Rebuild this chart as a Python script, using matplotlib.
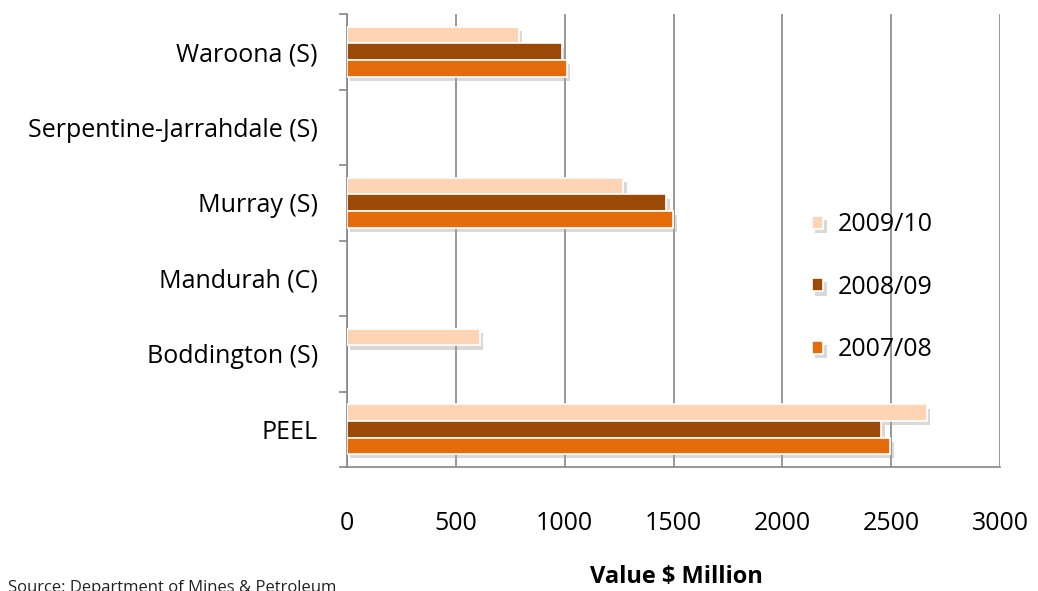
import matplotlib
matplotlib.use("Agg")
from matplotlib import pyplot as plt
from matplotlib import patheffects as pe
import numpy as np

categories = ["PEEL", "Boddington (S)", "Mandurah (C)", "Murray (S)",
              "Serpentine-Jarrahdale (S)", "Waroona (S)"]
years = ["2009/10", "2008/09", "2007/08"]
v0910 = [2663, 610, 0, 1270, 0, 788]
v0809 = [2455, 0, 0, 1467, 0, 987]
v0708 = [2495, 0, 0, 1499, 0, 1010]
colors = ["#FDD5B4", "#9A4A06", "#E46C0A"]

plt.rcParams["font.family"] = ["Open Sans", "DejaVu Sans"]

fig = plt.figure(figsize=(10.38, 5.91), dpi=100)
ax = fig.add_axes([347 / 1038, 1 - 467 / 591, (1000 - 347) / 1038, (467 - 14) / 591])

y = np.arange(len(categories))
h = 0.22
shadow = [pe.SimplePatchShadow(offset=(2.5, -3), shadow_rgbFace="#a0a0a0", alpha=0.4),
          pe.Normal()]
series = [v0910, v0809, v0708]
offsets = [h, 0, -h]
handles = []
for vals, off, c, lab in zip(series, offsets, colors, years):
    b = ax.barh(y + off, vals, height=h, color=c, edgecolor="white",
                linewidth=1.2, label=lab, zorder=3)
    for r, v in zip(b, vals):
        if v > 0:
            r.set_path_effects(shadow)
        else:
            r.set_visible(False)
    handles.append(b)

ax.set_xlim(0, 3000)
ax.set_ylim(-0.5, len(categories) - 0.5)
ax.set_xticks(np.arange(0, 3001, 500))
ax.set_yticks(y)
ax.set_yticklabels(categories, fontsize=18)
ax.set_yticks(np.arange(-0.5, len(categories), 1), minor=True)
ax.tick_params(axis="y", which="major", length=0, pad=21)
ax.tick_params(axis="y", which="minor", length=6, color="#868686", width=1.2)
ax.tick_params(axis="x", length=0, labelsize=18, pad=32)
ax.grid(axis="x", color="#868686", linewidth=1.2, zorder=0)
for s in ["top", "right"]:
    ax.spines[s].set_visible(False)
ax.spines["left"].set_color("#868686")
ax.spines["left"].set_linewidth(1.2)
ax.spines["bottom"].set_color("#868686")
ax.spines["bottom"].set_linewidth(1.2)

ax.legend(handles=handles, labels=years, loc="center left",
          bbox_to_anchor=(0.712, 0.397), frameon=False, fontsize=18,
          borderpad=0, borderaxespad=0,
          handlelength=0.45, handleheight=0.45, labelspacing=1.5,
          handletextpad=0.6)

fig.text(676 / 1038, 1 - 577 / 591, "Value $ Million", ha="center",
         va="center", fontsize=17, fontweight="bold")
fig.text(8 / 1038, 1 - 580 / 591, "Source: Department of Mines & Petroleum",
         ha="left", va="top", fontsize=12, color="#222222")

fig.savefig("out.png", dpi=100)
